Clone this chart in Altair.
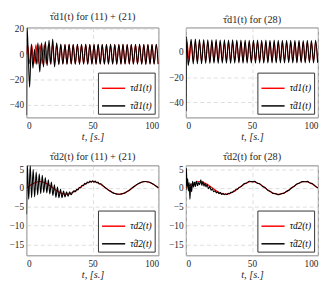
import altair as alt
import pandas as pd

# ---------------- data ----------------
# top panels: peak / trough instants of tau_d1 (s)
T_PK = [0.8, 3.9, 7.1, 10.2, 13.4, 16.5, 19.6, 22.8, 25.9, 29.1, 32.2, 35.3, 38.5, 41.6, 44.8, 47.9,
        51.1, 54.2, 57.3, 60.5, 63.6, 66.8, 69.9, 73.0, 76.2, 79.3, 82.5, 85.6, 88.8, 91.9, 95.0, 98.2]
T_TR = [2.4, 5.5, 8.6, 11.8, 14.9, 18.1, 21.2, 24.4, 27.5, 30.6, 33.8, 36.9, 40.1, 43.2, 46.3, 49.5,
        52.6, 55.8, 58.9, 62.0, 65.2, 68.3, 71.5, 74.6, 77.8, 80.9, 84.0, 87.2, 90.3, 93.5, 96.6, 99.7]
RED1_PK = [7.7, 7.7, 7.7, 7.7, 7.7, 7.7, 7.7, 7.7, 7.7, 7.7, 7.7, 7.7, 7.7, 7.7, 7.7, 7.7,
           7.7, 7.7, 7.7, 7.7, 7.7, 7.7, 7.7, 7.7, 7.7, 7.7, 7.7, 7.7, 7.7, 7.7, 7.7, 7.7]
RED1_TR = [-7.7, -7.7, -7.7, -7.7, -7.7, -7.7, -7.7, -7.7, -7.7, -7.7, -7.7, -7.7, -7.7, -7.7, -7.7, -7.7,
           -7.7, -7.7, -7.7, -7.7, -7.7, -7.7, -7.7, -7.7, -7.7, -7.7, -7.7, -7.7, -7.7, -7.7, -7.7, -7.7]

# top-left estimate: transient, then peaks/troughs from the 9th cycle on
BLK1_T0 = [0.0, 0.4, 1.2, 2.3, 3.6, 4.8, 6.0, 7.3, 8.6, 10.0, 11.4, 12.8, 14.2, 15.6, 17.0, 18.4, 19.8, 21.2, 22.8, 24.4]
BLK1_V0 = [-48, 21, 2, -26, 8, -11, 4, -8, 9, -14, 9, -10, 10, -9, 11, -8, 12, -10, 9, -8.2]
BLK1_PK = [8.0, 7.9, 8.1, 7.8, 8.0, 7.9, 8.0, 7.8, 7.9, 8.0, 7.9, 7.8, 8.0, 7.9, 7.8, 8.0,
           7.9, 7.8, 7.9, 8.0, 7.8, 7.9, 7.8, 7.9]
BLK1_TR = [-7.9, -8.0, -7.8, -7.9, -8.0, -7.8, -7.9, -7.9, -8.0, -7.8, -7.9, -7.9, -7.8, -8.0, -7.9, -7.8,
           -7.9, -7.9, -7.8, -7.9, -8.0, -7.8, -7.9, -7.8]

# top-right estimate: transient, then peaks/troughs from the 2nd cycle on
BLK2_T0 = [0.0, 0.4, 1.7]
BLK2_V0 = [-47, 12, -11]
BLK2_PK = [9.8, 10.0, 9.6, 9.7, 9.5, 9.4, 9.6, 9.3, 9.5, 9.2, 9.4, 9.3, 9.2, 9.3, 9.1, 9.3,
           9.2, 9.1, 9.2, 9.0, 9.2, 9.1, 9.0, 9.1, 9.0, 9.1, 9.0, 8.9, 9.0, 8.9, 9.0]
BLK2_TR = [-9.6, -9.4, -9.5, -9.2, -9.3, -9.1, -9.2, -9.0, -9.1, -9.2, -9.0, -8.9, -9.1, -9.0, -8.9, -9.0,
           -8.8, -9.0, -8.9, -8.8, -8.9, -8.8, -8.9, -8.7, -8.8, -8.9, -8.7, -8.8, -8.7, -8.8, -8.7]

# bottom panels: tau_d2
RED2_T = [0, 5, 10, 15, 20, 25, 30, 35, 40, 45, 50, 55, 60, 65, 70, 75, 80, 85, 90, 95, 100]
RED2_V = [0, 1.24, 1.75, 1.24, 0, -1.17, -1.65, -1.17, 0, 1.24, 1.75, 1.24, 0, -1.17, -1.65, -1.17,
          0, 1.24, 1.75, 1.24, 0]

BLK3_T = [0.0, 0.6, 1.6, 2.8, 3.8, 5.0, 6.1, 7.3, 8.4, 9.6, 10.7, 11.9, 13.0, 14.2, 15.3, 16.5,
          17.6, 18.8, 19.9, 21.1, 22.2, 23.4, 24.5, 25.7, 26.8, 28.0, 29.1, 30.3, 31.4, 32.6, 33.7, 35.0,
          36, 37, 38, 39, 40, 41, 42, 43, 44, 45, 46, 47, 48, 49, 50, 51, 52, 53, 54, 55, 56,
          58, 60, 62, 64, 66, 68, 70, 72, 74, 76, 78, 80, 82, 84, 86, 88, 90, 92, 94, 96, 98, 100]
BLK3_V = [-7.0, 6.0, -3.0, 6.0, -2.6, 5.0, -2.4, 4.3, -1.8, 3.8, -1.5, 3.4, -1.2, 2.8, -1.3, 2.2,
          -1.6, 1.6, -2.0, 0.9, -2.5, 0.3, -2.6, -0.3, -2.6, -0.8, -2.4, -1.0, -2.2, -1.0, -1.8, -1.0,
          -0.75, -1.0, -0.3, -0.5, 0.2, 0.05, 0.75, 0.6, 1.25, 1.05, 1.6, 1.4, 1.85, 1.55, 1.95, 1.55,
          1.85, 1.4, 1.6, 1.1, 1.15,
          0.58, -0.03, -0.55, -0.95, -1.36, -1.55, -1.67, -1.55, -1.36, -0.95, -0.55, 0.03, 0.56, 1.05,
          1.40, 1.68, 1.74, 1.64, 1.44, 1.01, 0.56, 0.02]

BLK4_T = [0.0, 0.3, 0.8, 1.3, 1.8, 2.4, 3.0, 3.6, 4.3, 5.0, 5.7, 6.5, 7.2, 8.0, 8.8, 9.6, 10.4, 11.2,
          12.0, 12.8, 13.6, 14.4, 15.2, 16.0, 17, 18, 19, 20, 21, 22, 23, 24, 25, 26, 27, 28, 29, 30,
          31, 32, 33, 34, 35, 36, 37, 38, 39,
          40, 42, 44, 46, 48, 50, 52, 54, 56, 58, 60, 62, 64, 66, 68, 70, 72, 74, 76, 78, 80,
          82, 84, 86, 88, 90, 92, 94, 96, 98, 100]
BLK4_V = [-0.5, 5.3, 0.5, 2.5, -0.8, 1.5, -3.0, 1.2, -1.0, 1.8, 0.2, 1.6, 0.4, 1.9, 0.6, 1.5, 0.9, 2.2,
          0.7, 1.8, 0.5, 1.3, 0.3, 1.0, -0.2, 0.4, -0.6, -0.2, -1.0, -0.7, -1.3, -1.0, -1.5, -1.2, -1.7,
          -1.4, -1.8, -1.5, -1.8, -1.4, -1.5, -1.1, -1.2, -0.8, -0.8, -0.3, -0.3,
          0.1, 0.45, 1.15, 1.35, 1.8, 1.65, 1.78, 1.3, 1.12, 0.42, 0.1, -0.62, -0.88, -1.45, -1.5,
          -1.78, -1.5, -1.42, -0.88, -0.6, 0.08, 0.45, 1.12, 1.32, 1.76, 1.66, 1.78, 1.33, 1.12, 0.45, 0.05]

assert len(BLK1_T0) == len(BLK1_V0)
assert len(BLK3_T) == len(BLK3_V), (len(BLK3_T), len(BLK3_V))
assert len(BLK4_T) == len(BLK4_V), (len(BLK4_T), len(BLK4_V))

HAT = "\u0302"
N1 = ["τd1(t)", "τ" + HAT + "d1(t)"]
N2 = ["τd2(t)", "τ" + HAT + "d2(t)"]
TITLES = ["τ" + HAT + "d1(t) for (11) + (21)", "τ" + HAT + "d1(t) for (28)",
          "τ" + HAT + "d2(t) for (11) + (21)", "τ" + HAT + "d2(t) for (28)"]

FONT = "Liberation Serif"


def build(ts, vs):
    pts = sorted(zip(ts, vs))
    return [p[0] for p in pts], [p[1] for p in pts]


red1_t, red1_v = build([0.0] + T_PK + T_TR, [0.0] + RED1_PK + RED1_TR)
blk1_t, blk1_v = build(BLK1_T0 + T_PK[8:] + T_TR[8:], BLK1_V0 + BLK1_PK + BLK1_TR)
blk2_t, blk2_v = build(BLK2_T0 + T_PK[1:] + T_TR[1:], BLK2_V0 + BLK2_PK + BLK2_TR)


def panel(rt, rv, bt, bv, names, title, ydom, yticks):
    red = pd.DataFrame({"t": rt, "v": rv, "s": names[0]})
    blk = pd.DataFrame({"t": bt, "v": bv, "s": names[1]})
    x = alt.X("t:Q", scale=alt.Scale(domain=[0, 100], nice=False, zero=False),
              axis=alt.Axis(values=[0, 50, 100], title="t, [s.]"))
    y = alt.Y("v:Q", scale=alt.Scale(domain=ydom, nice=False, zero=False),
              axis=alt.Axis(values=yticks, title=None))
    color = alt.Color("s:N", scale=alt.Scale(domain=names, range=["#ff0000", "#000000"]),
                      legend=alt.Legend(title=None, orient="bottom-right", offset=4,
                                        symbolType="stroke", symbolSize=560, symbolStrokeWidth=1.5,
                                        labelFont=FONT, labelFontSize=9.5, labelFontStyle="italic",
                                        labelColor="#000", padding=3, rowPadding=-8, labelOffset=4,
                                        fillColor="white", strokeColor="#333"))
    l1 = alt.Chart(red).mark_line(clip=True, strokeWidth=1.1, interpolate="monotone").encode(
        x=x, y=y, color=color)
    l2 = alt.Chart(blk).mark_line(clip=True, strokeWidth=1.1, interpolate="monotone").encode(
        x=x, y=y, color=color)
    return alt.layer(l1, l2).properties(width=135, height=92, title=alt.Title(title))


p1 = panel(red1_t, red1_v, blk1_t, blk1_v, N1, TITLES[0], [-50, 21], [-40, -20, 0, 20])
p2 = panel(red1_t, red1_v, blk2_t, blk2_v, N1, TITLES[1], [-52, 19], [-40, -20, 0])
p3 = panel(RED2_T, RED2_V, BLK3_T, BLK3_V, N2, TITLES[2], [-18, 6], [-15, -10, -5, 0, 5])
p4 = panel(RED2_T, RED2_V, BLK4_T, BLK4_V, N2, TITLES[3], [-18, 6], [-15, -10, -5, 0, 5])

top = alt.hconcat(p1, p2, spacing=8).resolve_scale(color="independent").resolve_legend(color="independent")
bot = alt.hconcat(p3, p4, spacing=8).resolve_scale(color="independent").resolve_legend(color="independent")

chart = alt.vconcat(top, bot, spacing=8).resolve_scale(color="independent").resolve_legend(
    color="independent").properties(padding=0).configure_axis(
    labelFont=FONT, labelFontSize=9.5, labelColor="#262626", titleFont=FONT, titleFontSize=10.5,
    titleFontStyle="italic", titleFontWeight="normal", titleColor="#262626", titlePadding=2,
    grid=True, gridDash=[4, 3], gridColor="#cfcfcf", gridWidth=0.7, domain=False, ticks=False,
    labelPadding=3).configure_view(stroke="#666666", strokeWidth=0.8).configure_title(
    font=FONT, fontSize=10.5, fontWeight="normal", color="#262626", offset=2)

chart.save("out.html", embed_options={"renderer": "svg", "actions": False})
